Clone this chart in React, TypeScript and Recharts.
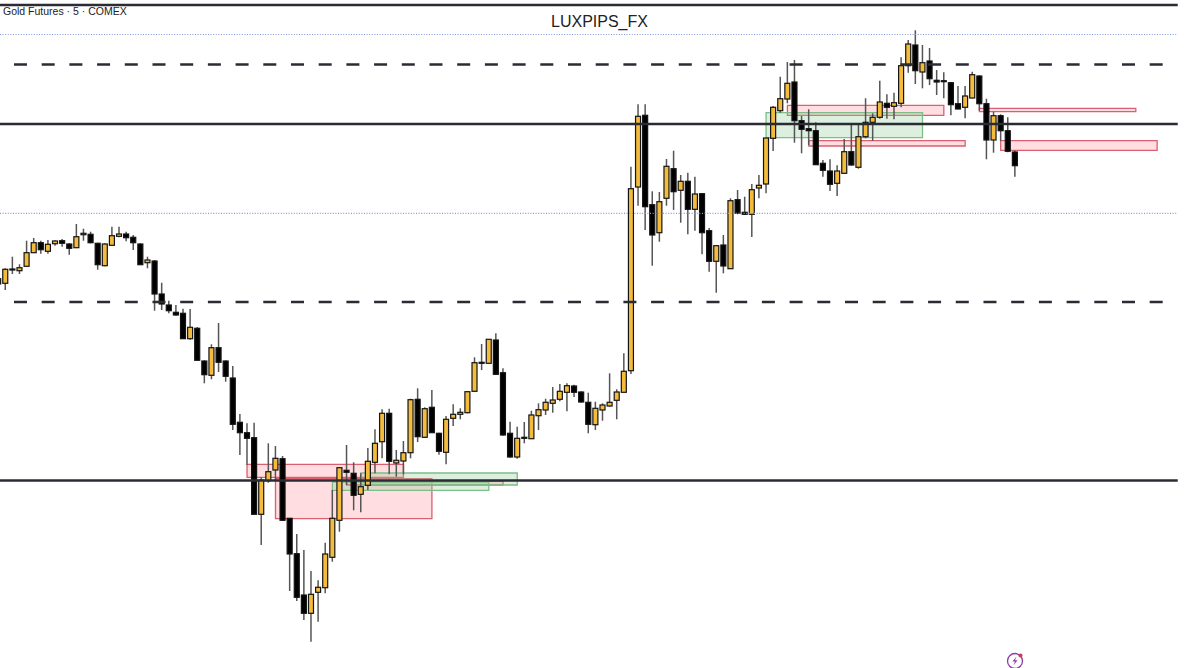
import { ComposedChart, Bar, XAxis, YAxis, ReferenceLine, ReferenceArea } from 'recharts'

// price levels (chart has no visible price scale)
const opens = [389.3,384.7,399,397.3,401.7,415.3,425.3,416.7,424.3,427.3,424,420.3,433.3,433.7,424.7,402.3,422.7,431.7,434,430.7,424,405.3,407,374,363,355.7,354.7,329.3,339.7,307,292.7,320.3,307,290,245.7,235.3,230.3,153.7,187.3,198,209.3,149.7,114.3,73,54.7,75.7,80.3,110.7,147.7,197.7,194.7,173.7,182.7,205.7,226.3,254.7,205,207,215.3,268.7,230.7,260.7,234.7,215.7,249.7,253.7,255.3,276.7,305.7,304.7,328,295.3,234.7,211,230.7,229.3,252.3,258,264.7,268.7,275.7,282,276,265.7,243.3,258,262,267.7,275.7,297.3,481,552.7,463.3,435.3,469.7,499.3,477.7,486.7,458.7,474.3,437.3,406.7,423,399.3,468.3,455.7,453.7,480,484,529.7,557.3,569,586,547.3,539.3,537.3,504.7,497,484.7,494.7,516.3,500.7,531.3,545.7,550.7,564.7,561.7,564.7,602.3,623,596,607,587.7,587.3,585.3,564.3,560.7,570,592,564.3,528,552.3,537.3,516]
const closes = [384,398.7,398.3,400.3,415.3,425.3,418.3,423.7,427,424.7,419.7,431.3,434.7,425.3,403.3,424,432.3,434,430.3,425.3,403.3,408,374,364,357.3,353,329.3,340.7,307.7,293.3,320.3,305.7,291.7,243.7,235.3,229.7,153.7,188,196.3,209.7,147.7,114,70.7,54.7,73.7,80.7,114,149.7,200.3,195.7,172.7,181.3,206.7,224.7,254.7,206.7,207.7,215.3,268.3,231.3,259.3,235.3,216.7,248.7,253.7,255.7,276.3,305.3,304.7,328.7,293.7,233,211,229.7,229.7,253,258.3,265.7,268,276.7,282.3,275.7,266,243.7,259.7,263,265.7,276,296.7,479.3,551.7,461.3,433,466.3,501.7,476.3,486.7,458.7,474,435.3,406.7,422.3,402,467.3,454.7,453.7,478.3,482.7,530,560.7,569.3,584.7,547.3,538.7,537.3,503.3,497.7,483.7,497,516.3,503,531.3,545.7,550.7,566,560.7,565.3,602.3,624,597.3,605.3,589.3,586,586.7,563.3,559,572,593.3,564.3,528,552.3,537.3,516.7,502.3]
const highs = [390.7,399.7,411.3,403.7,427.3,430,427.3,428,427.7,429,424.7,444,439.3,436.3,425.3,424.7,441.3,441.3,436.3,433,424.7,411.3,408,385.3,367.3,363,359.3,359,341,307.7,323.7,345,307.7,302,254,244.7,245.3,190.7,224.7,222,212,149.7,134,118,97,87.7,125.3,178,200.7,223,205.7,194.7,220,238.7,258.7,259.3,218,227,269.3,279.7,260.7,278,235.3,252,263.7,259.7,277,310.7,324,328.7,334.7,299.7,246.3,241.3,246,257.3,264.7,269.3,281,284,284.7,283.3,276.7,275.3,266.3,264.7,294.7,278.7,314.7,501.3,563.7,563.7,476.7,476,509,517.3,493,495.3,491.3,474.7,440,423,433,469.7,478,471.3,484,493,530,562,591.3,606,608,552,558.7,545.7,508,508.7,502.7,529,544,544,569.7,554.7,587.3,573.7,575.3,610.7,628,637.7,623,620,598,595.7,586,582,582,596.3,592.7,569.3,556.3,553.7,550.7,517.3]
const lows = [383,378,394,394,401.7,415.3,414.3,414.3,422.3,421.3,413.3,420.3,427.3,424.7,398.3,401.7,422.7,430.7,426.7,418,403.3,399.7,357.3,358,354.7,352.3,329.3,328.3,307.7,284.7,288.7,296,286.3,238,213,203,153.7,123,185.3,188,147.7,77,67,48,26.3,46.3,74.7,106.3,136.3,183,157.7,155.7,178,194.7,209.7,193.7,191.3,193.7,209.7,226,230.3,235.3,213.3,203.7,242,248.7,254.7,276,298,304.7,293,232.3,210.3,209.3,224.7,229,238,253,255.3,266.7,256.7,271,265.3,234.7,238,247.3,261.3,248.7,275.7,294,462.3,438,402.3,426.3,462.3,458,445.3,433.7,437.3,413.7,396.3,375.3,394.7,399,453.7,453,431,469.7,474.7,517,555.3,564.7,525.3,514.7,523,503,491.3,477,472,494,502.3,499.3,529.7,527.3,549.3,549.3,548.7,560.7,595.3,584,579.7,583,573,569.7,552.7,558.7,549.7,569.7,557.3,508.7,515.3,527,515.7,491.3]

// zones: from bar, to bar, top, bottom
const redZones = [
  [35, 57, 203.7, 190.7],
  [39, 61, 189.3, 149.3],
  [49, 71, 186.7, 183],
  [111, 133, 562.7, 552.7],
  [114, 136, 527.3, 522],
  [138, 160, 559.7, 556.3],
  [141, 163, 527.3, 517.7],
]
const greenZones = [
  [47, 69, 186, 177.7],
  [51, 73, 195, 183],
  [108, 130, 555.3, 530.3],
]
const solidLevels = [663, 544, 187.5]
const dottedLevels = [633.5, 454.7]
const dashedLevels = [603.5, 366]

const rows = opens.map((open, i) => ({
  i,
  open,
  close: closes[i],
  high: highs[i],
  low: lows[i],
}))

function Candle(props: any) {
  const { x, y, width, height, payload } = props
  const top = Math.min(y, y + height)
  const h = Math.abs(height)
  const unit = h / (payload.high - payload.low || 1)
  const up = payload.close >= payload.open
  const bodyTop = top + (payload.high - Math.max(payload.open, payload.close)) * unit
  const bodyH = Math.max(Math.abs(payload.close - payload.open) * unit, 1)
  const mid = x + width / 2
  return (
    <g>
      <line x1={mid} x2={mid} y1={top} y2={top + h} stroke="#555" strokeWidth={1.5} />
      <rect x={x} y={bodyTop} width={width} height={bodyH} fill={up ? '#f4bc3c' : '#000'} stroke="#141414" strokeWidth={1.2} />
    </g>
  )
}

const lineEnd = 165.9

export default function App() {
  return (
    <div style={{ position: 'absolute', left: 0, top: 0, width: 1199, height: 668, background: '#fff', overflow: 'hidden' }}>
      <ComposedChart width={1199} height={668} data={rows} margin={{ top: 0, right: 0, bottom: 0, left: 0 }}>
        <XAxis dataKey="i" type="number" domain={[0.253, 168.89]} hide allowDataOverflow />
        <YAxis type="number" domain={[0, 668]} hide allowDataOverflow />
        {redZones.map((z, k) => (
          <ReferenceArea key={`r${k}`} x1={z[0]} x2={z[1]} y1={z[2]} y2={z[3]} fill="#ff8f98" fillOpacity={0.3} stroke="#d9606e" strokeWidth={1.3} ifOverflow="visible" />
        ))}
        {greenZones.map((z, k) => (
          <ReferenceArea key={`g${k}`} x1={z[0]} x2={z[1]} y1={z[2]} y2={z[3]} fill="#8fce98" fillOpacity={0.3} stroke="#7dbd88" strokeWidth={1.3} ifOverflow="visible" />
        ))}
        {solidLevels.map((v) => (
          <ReferenceLine key={v} segment={[{ x: 0.253, y: v }, { x: lineEnd, y: v }]} stroke="#2b2b33" strokeWidth={2.6} />
        ))}
        {dottedLevels.map((v) => (
          <ReferenceLine key={v} segment={[{ x: 0.253, y: v }, { x: lineEnd, y: v }]} stroke="#7f9be0" strokeWidth={1.2} strokeDasharray="1 1.6" />
        ))}
        {dashedLevels.map((v) => (
          <ReferenceLine key={v} segment={[{ x: 2.22, y: v }, { x: 164.1, y: v }]} stroke="#2b2b33" strokeWidth={2.6} strokeDasharray="13 14.7" />
        ))}
        <Bar dataKey={(d: any) => [d.low, d.high]} barSize={5} shape={<Candle />} isAnimationActive={false} />
      </ComposedChart>
      <div style={{ position: 'absolute', left: 3, top: 5, fontFamily: 'Liberation Sans', fontSize: 10.5, color: '#222' }}>Gold Futures · 5 · COMEX</div>
      <div style={{ position: 'absolute', left: 0, width: 1199, top: 13, textAlign: 'center', fontFamily: 'Liberation Sans', fontSize: 16, color: '#222' }}>LUXPIPS_FX</div>
      <svg style={{ position: 'absolute', left: 1004, top: 651 }} width={24} height={17}>
        <circle cx={11} cy={10} r={7.5} fill="none" stroke="#8a3fa8" strokeWidth={1.3} />
        <path d="M12.5 5.5 L8.5 10.5 L11 10.5 L9.5 14.5 L13.5 9.3 L11 9.3 Z" fill="#8a3fa8" />
        <circle cx={16.5} cy={4.5} r={2} fill="#e0305a" />
      </svg>
    </div>
  )
}
